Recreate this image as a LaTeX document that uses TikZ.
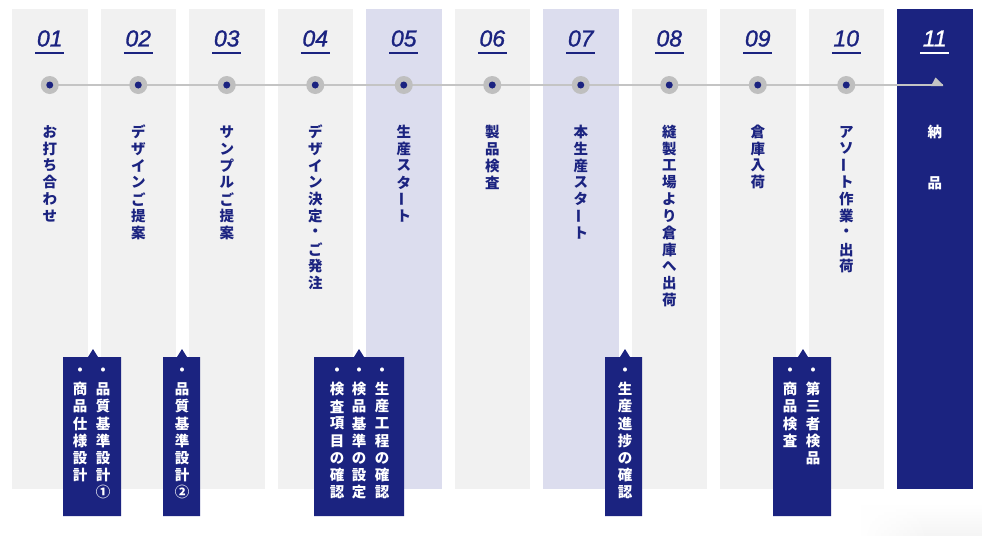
\documentclass[tikz,border=0pt]{standalone}
\usepackage{fontspec}
\usepackage{graphicx}
\usetikzlibrary{fadings}
\newfontfamily\jpfont{Noto Sans CJK JP}
\newfontfamily\numfont[FakeBold=1.2]{Liberation Sans}
\definecolor{colgray}{HTML}{F1F1F1}
\definecolor{collav}{HTML}{DCDDEE}
\definecolor{navy}{HTML}{1B2380}
\definecolor{linegray}{HTML}{C4C4C4}
\definecolor{dotgray}{HTML}{BFBFBF}
\newcommand\vbar{\rotatebox[origin=c]{90}{ー}}
\tikzset{
  colbox/.style={fill=colgray, draw=none},
  lavbox/.style={fill=collav, draw=none},
  navybox/.style={fill=navy, draw=none},
  numtext/.style={font=\numfont\itshape\fontsize{23}{23}\selectfont, text=navy, inner sep=0pt},
  vchar/.style={font=\jpfont\bfseries\fontsize{14.5}{14.5}\selectfont, text=navy, inner sep=0pt},
  wchar/.style={font=\jpfont\bfseries\fontsize{14.5}{14.5}\selectfont, text=white, inner sep=0pt},
  dotouter/.style={circle, fill=dotgray, minimum size=18pt, inner sep=0pt},
  dotinner/.style={circle, fill=navy, minimum size=7pt, inner sep=0pt},
  timeline/.style={draw=linegray, line width=2pt},
}
\newcommand\vtext[5]{% style, x, y0, pitch, list
  \foreach \c [count=\i from 0] in {#5} {
    \node[#1] (vt-#2-\i) at (#2, #3+\i*#4) {\c};
  }
}
\begin{document}
\begin{tikzpicture}[x=1pt, y=-1pt]
\useasboundingbox (0,0) rectangle (982,536);
\fill[white] (0,0) rectangle (982,536);
% faint shadow bottom right
\fill[black!4, path fading=north] (860,505) rectangle (982,536);
\fill[white, path fading=east] (860,505) rectangle (930,536);
% columns
\foreach \k in {1,...,11} {
  \pgfmathsetmacro{\xl}{12+88.5*(\k-1)}
  \pgfmathsetmacro{\xc}{\xl+37.75}
  \ifnum\k=5 \def\st{lavbox}\else\ifnum\k=7 \def\st{lavbox}\else\ifnum\k=11 \def\st{navybox}\else\def\st{colbox}\fi\fi\fi
  \path[\st] (\xl,9) rectangle ++(75.5,480);
  \coordinate (c\k) at (\xc,85);
}
% numbers
\foreach \k/\t in {1/01,2/02,3/03,4/04,5/05,6/06,7/07,8/08,9/09,10/10} {
  \pgfmathsetmacro{\xc}{49.75+88.5*(\k-1)}
  \node[numtext] (n\k) at (\xc,38.5) {\t};
  \draw[navy, line width=2pt] (\xc-14.5,53) -- (\xc+14.5,53);
}
\node[numtext, text=white] (n11) at (934.75,38.5) {11};
\draw[white, line width=2pt] (934.75-14.5,53) -- (934.75+14.5,53);
% timeline
\coordinate (tip) at (943,85);
\draw[timeline] (c1) -- (tip);
\fill[linegray] (931,86) -- (935.5,77.5) -- (tip) -- (943,86) -- cycle;
\foreach \k in {1,...,10} {
  \node[dotouter] (d\k) at (c\k) {};
  \node[dotinner] (di\k) at (c\k) {};
}
% main labels
\vtext{vchar}{49.75}{132}{16.8}{お,打,ち,合,わ,せ}
\vtext{vchar}{138.25}{132}{16.8}{デ,ザ,イ,ン,ご,提,案}
\vtext{vchar}{226.75}{132}{16.8}{サ,ン,プ,ル,ご,提,案}
\vtext{vchar}{315.25}{132}{16.8}{デ,ザ,イ,ン,決,定,・,ご,発,注}
\vtext{vchar}{403.75}{132}{16.8}{生,産,ス,タ,\vbar,ト}
\vtext{vchar}{492.25}{132}{16.8}{製,品,検,査}
\vtext{vchar}{580.75}{132}{16.8}{本,生,産,ス,タ,\vbar,ト}
\vtext{vchar}{669.25}{132}{16.8}{縫,製,工,場,よ,り,倉,庫,へ,出,荷}
\vtext{vchar}{757.75}{132}{16.8}{倉,庫,入,荷}
\vtext{vchar}{846.25}{132}{16.8}{ア,ソ,\vbar,ト,作,業,・,出,荷}
\node[wchar] (w1) at (934.75,132) {納};
\node[wchar] (w2) at (934.75,183) {品};
% callout boxes
\foreach \n/\l/\r/\p in {b1/63/121/93, b2/163/200/182, b3/314/404/359, b4/605/642/625, b5/773/831/803} {
  \fill[navy] (\l,357) -- (\p-5,357) -- (\p,349) -- (\p+5,357) -- (\r,357) -- (\r,516) -- (\l,516) -- cycle;
  \coordinate (\n) at (\p,357);
}
\vtext{wchar}{103}{372}{17.2}{・,品,質,基,準,設,計,①}
\vtext{wchar}{80}{372}{17.2}{・,商,品,仕,様,設,計}
\vtext{wchar}{182}{372}{17.2}{・,品,質,基,準,設,計,②}
\vtext{wchar}{382}{372}{17.2}{・,生,産,工,程,の,確,認}
\vtext{wchar}{359}{372}{17.2}{・,検,品,基,準,の,設,定}
\vtext{wchar}{337}{372}{17.2}{・,検,査,項,目,の,確,認}
\vtext{wchar}{625}{372}{17.2}{・,生,産,進,捗,の,確,認}
\vtext{wchar}{813}{372}{17.2}{・,第,三,者,検,品}
\vtext{wchar}{790}{372}{17.2}{・,商,品,検,査}
\end{tikzpicture}
\end{document}
